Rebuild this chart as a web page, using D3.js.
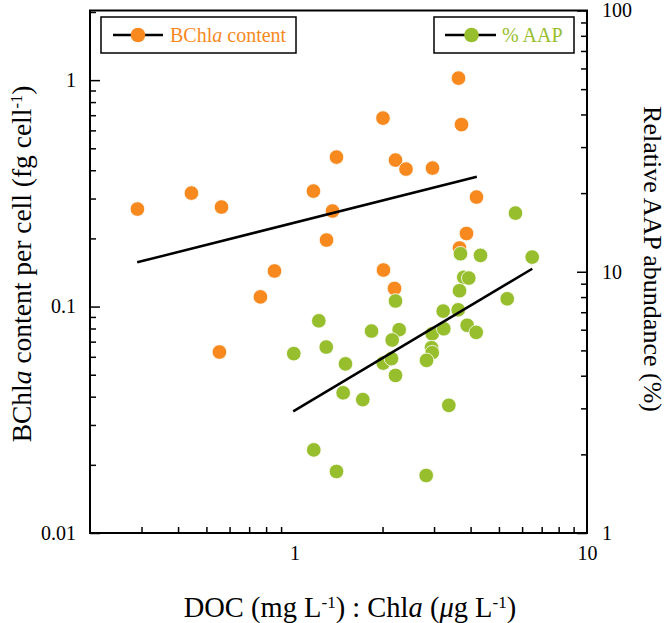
<!DOCTYPE html>
<html>
<head>
<meta charset="utf-8">
<script src="https://cdn.jsdelivr.net/npm/d3@7"></script>
<style>
  html, body { margin: 0; padding: 0; background: #fff; }
  svg text { font-family: "Liberation Serif", "Times New Roman", serif; }
</style>
</head>
<body>
<div id="chart"></div>
<script>
// BChla content per cell (left axis)
const bchlX = [0.2905, 0.4444, 0.5630, 1.161, 1.392, 1.349, 1.287, 2.007, 2.215, 2.406, 2.964,
               3.637, 3.724, 4.190, 3.873, 3.666, 0.8545, 0.765, 0.554, 2.015, 2.198];
const bchlY = [0.2696, 0.3171, 0.2751, 0.3236, 0.4572, 0.2642, 0.1967, 0.6797, 0.4436, 0.4047, 0.4089,
               1.0205, 0.6362, 0.3045, 0.2102, 0.1814, 0.1436, 0.1103, 0.0630, 0.1450, 0.1202];

// relative AAP abundance % (right axis)
const aapX = [5.696, 6.496, 3.694, 4.324, 3.791, 3.944, 3.666, 5.337, 3.224, 3.628, 2.215, 1.211,
              1.834, 2.280, 2.158, 2.957, 3.239, 3.894, 4.181, 0.9945, 1.284, 1.494, 2.011, 2.146,
              2.215, 2.941, 2.957, 2.828, 1.467, 1.712, 3.370, 1.164, 1.392, 2.820];
const aapY = [16.77, 11.38, 11.72, 11.55, 9.52, 9.46, 8.46, 7.88, 7.07, 7.15, 7.73, 6.49,
              5.93, 6.00, 5.48, 5.79, 6.05, 6.24, 5.86, 4.86, 5.15, 4.44, 4.47, 4.65,
              4.01, 5.12, 4.90, 4.58, 3.44, 3.24, 3.08, 2.08, 1.72, 1.66];

// regression lines (end points)
const bchlFitX = [0.290, 4.20];
const bchlFitY = [0.1568, 0.3744];
const aapFitX = [0.99, 6.50];
const aapFitY = [2.92, 10.27];

// ticks
const xMinorTicks = [0.3, 0.4, 0.5, 0.6, 0.7, 0.8, 0.9, 2, 3, 4, 5, 6, 7, 8, 9];
const xLabelTicks = [1, 10];
const yLeftMajor = [0.01, 0.1, 1];
const yLeftMinor = [0.02, 0.03, 0.04, 0.05, 0.06, 0.07, 0.08, 0.09, 0.2, 0.3, 0.4, 0.5, 0.6, 0.7, 0.8, 0.9, 2];
const yRightMajor = [1, 10, 100];
const yRightMinor = [2, 3, 4, 5, 6, 7, 8, 9, 20, 30, 40, 50, 60, 70, 80, 90];

const orange = "#f7891f";
const green = "#97be2d";

const width = 668, height = 623;
const margin = { top: 10.5, right: 81, bottom: 90, left: 90 };
const x0 = margin.left, x1 = width - margin.right;
const y0 = height - margin.bottom, y1 = margin.top;

const svg = d3.select("#chart").append("svg")
    .attr("width", width)
    .attr("height", height);

const x = d3.scaleLog().domain([0.2, 10]).range([x0, x1]);
const yLeft = d3.scaleLog().domain([0.01, 2.03]).range([y0, y1]);
const yRight = d3.scaleLog().domain([1, 100]).range([y0, y1]);

// axes (ticks point inward)
function drawAxis(axis, tx, ty, fontSize) {
    const g = svg.append("g").attr("transform", `translate(${tx},${ty})`).call(axis);
    g.select(".domain").remove();
    g.selectAll("line").attr("stroke", "#000").attr("stroke-width", 1.5);
    g.selectAll("text").attr("fill", "#000").style("font-size", fontSize + "px")
        .style("font-family", '"Liberation Serif", "Times New Roman", serif');
    return g;
}

drawAxis(d3.axisBottom(x).tickValues(xMinorTicks).tickSize(-6).tickFormat(""), 0, y0, 20);
drawAxis(d3.axisBottom(x).tickValues(xLabelTicks).tickSize(0).tickPadding(13).tickFormat(d3.format("")), 0, y0, 20);

drawAxis(d3.axisLeft(yLeft).tickValues(yLeftMinor).tickSize(-6).tickFormat(""), x0, 0, 20);
drawAxis(d3.axisLeft(yLeft).tickValues(yLeftMajor).tickSize(-10).tickFormat(""), x0, 0, 20);
drawAxis(d3.axisLeft(yLeft).tickValues(yLeftMajor).tickSize(0).tickPadding(14).tickFormat(d3.format("")), x0, 0, 20);

drawAxis(d3.axisRight(yRight).tickValues(yRightMinor).tickSize(-6).tickFormat(""), x1, 0, 20);
drawAxis(d3.axisRight(yRight).tickValues(yRightMajor).tickSize(-10).tickFormat(""), x1, 0, 20);
drawAxis(d3.axisRight(yRight).tickValues(yRightMajor).tickSize(0).tickPadding(15).tickFormat(d3.format("")), x1, 0, 20);

// frame
svg.append("rect")
    .attr("x", x0).attr("y", y1)
    .attr("width", x1 - x0).attr("height", y0 - y1)
    .attr("fill", "none").attr("stroke", "#000").attr("stroke-width", 2);

// points
svg.append("g").selectAll("circle")
    .data(bchlX.map((d, i) => [d, bchlY[i]]))
    .join("circle")
    .attr("cx", d => x(d[0]))
    .attr("cy", d => yLeft(d[1]))
    .attr("r", 7.3)
    .attr("fill", orange)
    .attr("stroke", "#fff")
    .attr("stroke-width", 0.8);

svg.append("g").selectAll("circle")
    .data(aapX.map((d, i) => [d, aapY[i]]))
    .join("circle")
    .attr("cx", d => x(d[0]))
    .attr("cy", d => yRight(d[1]))
    .attr("r", 7.3)
    .attr("fill", green)
    .attr("stroke", "#fff")
    .attr("stroke-width", 0.8);

// regression lines
svg.append("path")
    .datum(bchlFitX.map((d, i) => [d, bchlFitY[i]]))
    .attr("d", d3.line().x(d => x(d[0])).y(d => yLeft(d[1])))
    .attr("fill", "none").attr("stroke", "#000").attr("stroke-width", 2.5);

svg.append("path")
    .datum(aapFitX.map((d, i) => [d, aapFitY[i]]))
    .attr("d", d3.line().x(d => x(d[0])).y(d => yRight(d[1])))
    .attr("fill", "none").attr("stroke", "#000").attr("stroke-width", 2.5);

// legends
function legend(bx, by, bw, bh, lx0, lx1, mx, color, tx, parts) {
    const g = svg.append("g");
    g.append("rect").attr("x", bx).attr("y", by).attr("width", bw).attr("height", bh)
        .attr("fill", "#fff").attr("stroke", "#000").attr("stroke-width", 1.5);
    g.append("line").attr("x1", lx0).attr("x2", lx1).attr("y1", by + bh / 2).attr("y2", by + bh / 2)
        .attr("stroke", "#000").attr("stroke-width", 2.5);
    g.append("circle").attr("cx", mx).attr("cy", by + bh / 2).attr("r", 7.3).attr("fill", color);
    const t = g.append("text").attr("x", tx).attr("y", by + bh / 2 + 7)
        .attr("fill", color).style("font-size", "20px");
    parts.forEach(p => t.append("tspan").text(p[0]).style("font-style", p[1] ? "italic" : "normal"));
}
legend(101, 17, 195, 36, 113, 163, 138, orange, 170, [["BChl", 0], ["a", 1], [" content", 0]]);
legend(434, 17, 140, 36, 445, 496, 471.5, green, 502, [["% AAP", 0]]);

// axis titles
function titleText(t, parts) {
    parts.forEach(p => {
        const s = t.append("tspan").text(p[0]);
        if (p[1] === "i") s.style("font-style", "italic");
        if (p[1] === "sup") s.style("font-size", "0.6em").attr("dy", "-0.55em");
        if (p[1] === "after") s.attr("dy", "0.33em");
    });
}

const xTitle = svg.append("text")
    .attr("x", 350).attr("y", 617)
    .attr("text-anchor", "middle")
    .attr("fill", "#000").style("font-size", "28.5px");
titleText(xTitle, [["DOC (mg L", ""], ["-1", "sup"], [") : Chl", "after"], ["a", "i"], [" (", ""],
    ["\u03bc", "i"], ["g L", ""], ["-1", "sup"], [")", "after"]]);

const yTitle = svg.append("text")
    .attr("transform", "translate(31,264) rotate(-90)")
    .attr("text-anchor", "middle")
    .attr("fill", "#000").style("font-size", "27.5px");
titleText(yTitle, [["BChl", ""], ["a", "i"], [" content per cell (fg cell", ""], ["-1", "sup"], [")", "after"]]);

const y2Title = svg.append("text")
    .attr("transform", "translate(644,259) rotate(90)")
    .attr("text-anchor", "middle")
    .attr("fill", "#000").style("font-size", "26px")
    .text("Relative AAP abundance (%)");
</script>
</body>
</html>
